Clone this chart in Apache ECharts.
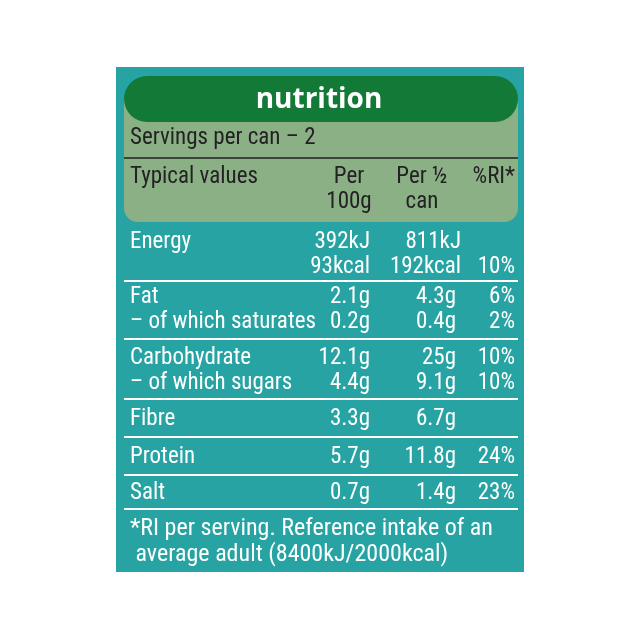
<!DOCTYPE html><html><head><meta charset="utf-8"><script src="https://cdn.jsdelivr.net/npm/echarts@6/dist/echarts.min.js"></script>
<style>html,body{margin:0;background:#fff}#c{width:640px;height:640px}</style></head><body><div id="c"></div><script>
const title = "nutrition";
const servings = "Servings per can – 2";
const headers = ["Typical values", "Per\n100g", "Per ½\ncan", "%RI*"];
const nutrients = ["Energy", "Fat", "– of which saturates", "Carbohydrate", "– of which sugars", "Fibre", "Protein", "Salt"];
const per100g = ["392kJ\n93kcal", "2.1g", "0.2g", "12.1g", "4.4g", "3.3g", "5.7g", "0.7g"];
const perHalfCan = ["811kJ\n192kcal", "4.3g", "0.4g", "25g", "9.1g", "6.7g", "11.8g", "1.4g"];
const ri = ["\n10%", "6%", "2%", "10%", "10%", "", "24%", "23%"];
const footnote = "*RI per serving. Reference intake of an\n average adult (8400kJ/2000kcal)";

const F = '"Liberation Sans Narrow","Roboto Condensed","DejaVu Sans Condensed",sans-serif';
const rowY = [230, 285, 310, 346, 371, 407, 445, 481];
const lines = [281, 339, 399, 437, 475, 509];
const els = [];
els.push({type:'rect',shape:{x:116,y:67,width:408,height:505},style:{fill:'#27a3a3'}});
els.push({type:'rect',shape:{x:124,y:99,width:394,height:123,r:[0,0,14,14]},style:{fill:'#8cb086'}});
els.push({type:'rect',shape:{x:124,y:76,width:394,height:46,r:23},style:{fill:'#127a36'}});
els.push({type:'text',x:319,y:100,style:{text:title,fill:'#fff',font:'bold 28px "Open Sans",sans-serif',align:'center',verticalAlign:'middle'}});
els.push({type:'text',x:130,y:127,style:{text:servings,fill:'#222',font:'23px '+F}});
els.push({type:'line',shape:{x1:124,y1:158,x2:518,y2:158},style:{stroke:'#222',lineWidth:1.5}});
const hx=[130,349,422,515], ha=['left','center','center','right'];
headers.forEach((h,i)=>els.push({type:'text',x:hx[i],y:165,style:{text:h,fill:'#222',font:'23px '+F,align:ha[i],lineHeight:25}}));
lines.forEach(y=>els.push({type:'line',shape:{x1:124,y1:y,x2:518,y2:y},style:{stroke:'#fff',lineWidth:2}}));
const tf='23px '+F;
nutrients.forEach((n,i)=>{
  const y=rowY[i];
  els.push({type:'text',x:130,y,style:{text:n,fill:'#fff',font:tf,lineHeight:25}});
  els.push({type:'text',x:370,y,style:{text:per100g[i],fill:'#fff',font:tf,align:'right',lineHeight:25}});
  els.push({type:'text',x:i===0?461:456,y,style:{text:perHalfCan[i],fill:'#fff',font:tf,align:'right',lineHeight:25}});
  els.push({type:'text',x:515,y,style:{text:ri[i],fill:'#fff',font:tf,align:'right',lineHeight:25}});
});
els.push({type:'text',x:130,y:516,style:{text:footnote,fill:'#fff',font:'24px '+F,lineHeight:26}});
const chart=echarts.init(document.getElementById('c'));
chart.setOption({graphic:{elements:els}});
</script></body></html>
